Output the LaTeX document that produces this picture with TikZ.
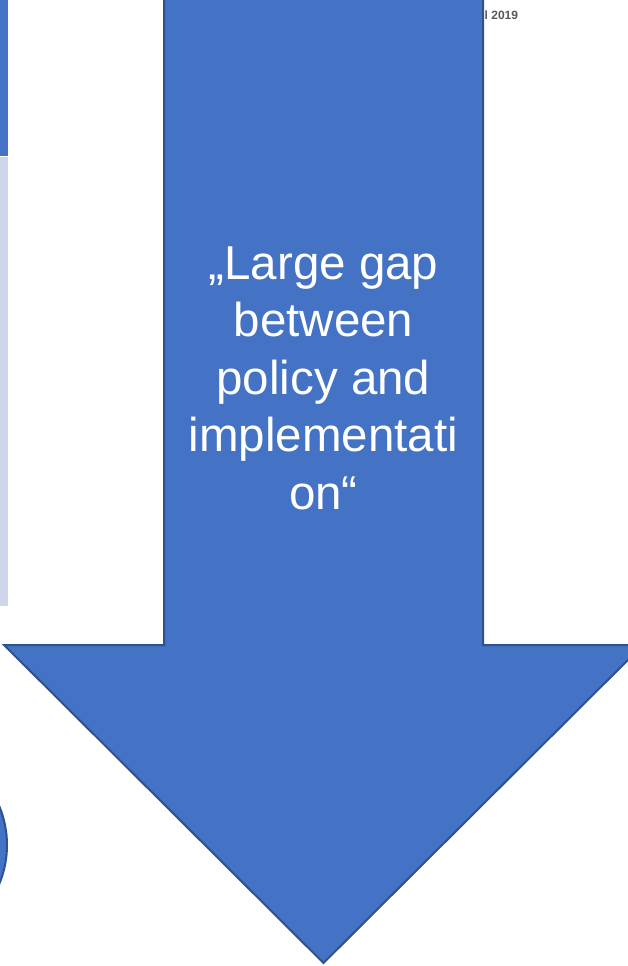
\documentclass[tikz,border=0pt]{standalone}
\usepackage{fontspec}
\setmainfont{Liberation Sans}
\usepackage{xcolor}
\usepackage{tikz}

\definecolor{arrowblue}{HTML}{4472C4}
\definecolor{arrowedge}{HTML}{2F528F}
\definecolor{striplilac}{HTML}{CFD5EA}
\definecolor{dategrey}{HTML}{595959}

\begin{document}
\begin{tikzpicture}[
				x=1pt,
				y=-1pt,
				line join=miter,
				every node/.style={inner sep=0pt}
				]
				\useasboundingbox (0,0) rectangle (628,966);
				\clip (0,0) rectangle (628,966);
				
				% bits of the slide behind the arrow
				\fill[arrowblue] (0,0) rectangle (8,156);
				\fill[striplilac] (0,157) rectangle (8,606);
				\draw[fill=arrowblue,draw=arrowedge,line width=2pt]
				(-94,845) circle[radius=101pt];
				\node[anchor=base west,text=dategrey,
					font=\fontsize{12}{14}\selectfont\bfseries] (date) at (484.5,20) {l 2019};
				
				% the big arrow
				\draw[fill=arrowblue,draw=arrowedge,line width=2pt]
				(164,-1) -- (483,-1) -- (483,645) -- (643,645)
				-- (323.5,963) -- (4,645) -- (164,645) -- cycle;
				\node[align=center,text=white,font=\fontsize{47.5}{57.5}\selectfont]
				(gap) at (323.5,378)
				{„Large gap\\between\\policy and\\implementati\\on“};
			\end{tikzpicture}
\end{document}
